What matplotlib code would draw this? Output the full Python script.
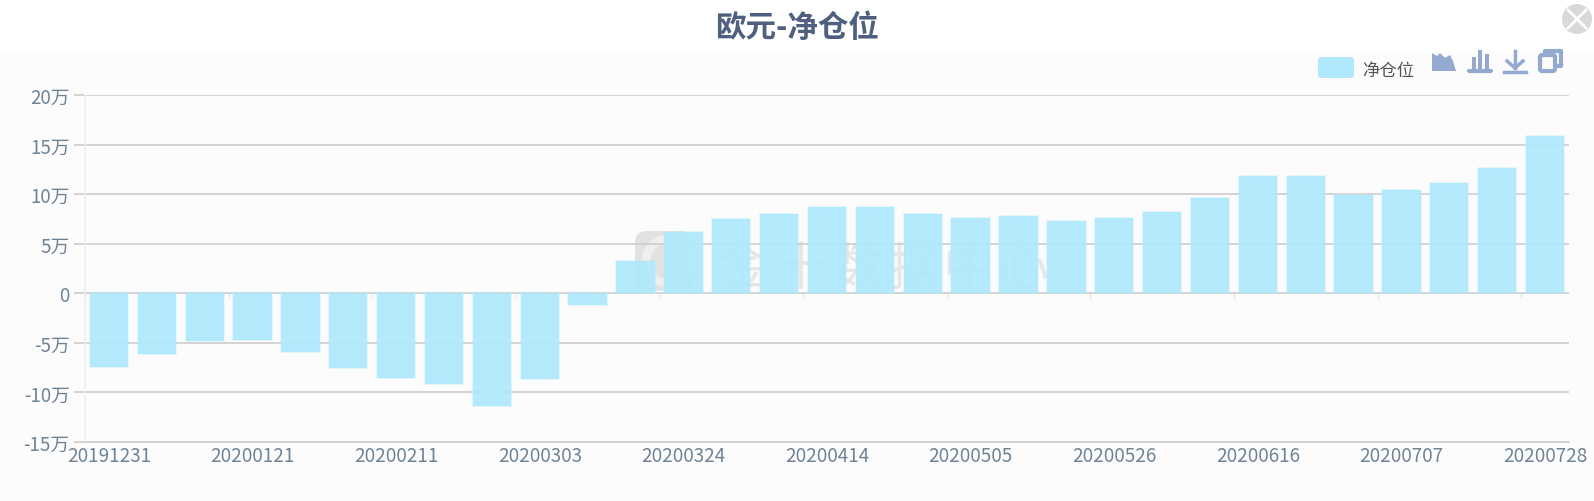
import matplotlib
matplotlib.use("Agg")
import matplotlib.pyplot as plt
from matplotlib.colors import to_rgba
from matplotlib.patches import Circle, FancyBboxPatch, Polygon, Rectangle

plt.rcParams['font.family'] = ['Noto Sans CJK SC', 'DejaVu Sans']

W, H = 1594, 502

dates = ["20191231", "", "", "20200121", "", "", "20200211", "", "", "20200303", "", "",
         "20200324", "", "", "20200414", "", "", "20200505", "", "", "20200526", "", "",
         "20200616", "", "", "20200707", "", "", "20200728"]
net_position = [-74800, -61700, -48200, -47200, -59000, -75800, -85500, -91000, -114000, -86000, -12300,
                32800, 61700, 74800, 79800, 86900, 87200, 80100, 76400, 78100, 72800,
                75800, 82000, 96300, 117800, 118800, 99400, 104500, 111700, 126000, 158800]
y_ticks = [-150000, -100000, -50000, 0, 50000, 100000, 150000, 200000]
y_labels = ["-15万", "-10万", "-5万", "0", "5万", "10万", "15万", "20万"]

BAR = "#b0e9fc"
TEXT = "#6f8396"
GRID = "#cccccc"
ICON = "#94a9d0"


def main():
    fig = plt.figure(figsize=(W / 100, H / 100), dpi=100, facecolor="white")

    # page layer, pixel coordinates
    bg = fig.add_axes([0, 0, 1, 1], zorder=0)
    bg.set_xlim(0, W)
    bg.set_ylim(H, 0)
    bg.axis("off")
    bg.add_patch(Rectangle((0, 52), W, H - 52, color="#fcfcfd", lw=0))
    draw_watermark(bg)

    ax = fig.add_axes([85 / W, 1 - 443 / H, 1484 / W, (443 - 96) / H], zorder=1)
    ax.patch.set_alpha(0)
    plot_bars(ax)

    top = fig.add_axes([0, 0, 1, 1], zorder=2)
    top.set_xlim(0, W)
    top.set_ylim(H, 0)
    top.axis("off")
    top.patch.set_alpha(0)
    draw_header(top)

    fig.savefig("out.png", dpi=100, facecolor="white")


def plot_bars(ax):
    x = list(range(len(net_position)))
    ax.bar(x, net_position, width=0.8, color=to_rgba(BAR, 0.95), zorder=3,
           edgecolor=to_rgba(BAR, 0.3), linewidth=1.5)
    ax.set_xlim(-0.5, len(x) - 0.5)
    ax.set_ylim(-150000, 200000)
    ax.set_yticks(y_ticks)
    ax.set_yticklabels(y_labels)
    ax.grid(axis="y", color=GRID, lw=1.2, zorder=1)
    ax.set_axisbelow(True)
    ax.tick_params(axis="y", length=8, width=1.2, color=GRID, labelcolor=TEXT, labelsize=13.5, pad=3)

    tick_pos = [i for i, d in enumerate(dates) if d]
    ax.set_xticks(tick_pos)
    ax.set_xticklabels([dates[i] for i in tick_pos])
    ax.tick_params(axis="x", length=0, labelcolor=TEXT, labelsize=13.6, pad=2)
    for label in ax.get_xticklabels():
        label.set_clip_on(False)

    # ticks hang from the zero line, between the bars
    ax.vlines([i - 0.5 for i in tick_pos], -5000, 0, color="#e4e4e4", lw=1, zorder=1)

    for side in ["top", "right"]:
        ax.spines[side].set_visible(False)
    ax.spines["left"].set_color("#eeeeee")
    ax.spines["left"].set_linewidth(1.2)
    ax.spines["bottom"].set_color(GRID)
    ax.spines["bottom"].set_linewidth(1.2)


def draw_watermark(ax):
    ax.add_patch(FancyBboxPatch((635, 232), 58, 60, boxstyle="round,pad=0,rounding_size=12",
                                fc="#e2e2e2", ec="none"))
    ax.add_patch(Circle((668, 262), 22, fc="none", ec="#efefef", lw=6))
    for cx, ch in zip([742, 800, 857, 914, 968, 1023], "金十数据中心"):
        ax.text(cx, 270, ch, fontsize=37, color="#e6e6e6", ha="center", va="center")


def draw_header(ax):
    ax.text(797, 28, "欧元-净仓位", fontsize=22, fontweight="bold", color="#4f5f7f",
            ha="center", va="center")

    # close button
    ax.add_patch(Circle((1577, 20), 15, color="#d9d9d9", lw=0))
    ax.plot([1568, 1586], [11, 29], color="white", lw=2)
    ax.plot([1568, 1586], [29, 11], color="white", lw=2)

    # legend
    ax.add_patch(FancyBboxPatch((1318, 58), 36, 21, boxstyle="round,pad=0,rounding_size=4",
                                fc=BAR, ec="none"))
    ax.text(1362, 71, "净仓位", fontsize=12.5, color="#555555", ha="left", va="center")

    # toolbox icons
    ax.add_patch(Polygon([(1432, 72), (1432, 54), (1437, 57), (1440, 54), (1445, 59),
                          (1450, 56), (1453, 62), (1456, 72)], color=ICON, lw=0))
    for bx, by in [(1472, 58), (1478, 51), (1485, 55)]:
        ax.add_patch(Rectangle((bx, by), 4.5, 70 - by, color=ICON, lw=0))
    ax.plot([1469, 1491], [72, 72], color=ICON, lw=3, solid_capstyle="round")
    ax.plot([1515, 1515], [52, 69], color=ICON, lw=2.5)
    ax.plot([1507, 1515, 1523], [62, 69, 62], color=ICON, lw=2.5)
    ax.plot([1504, 1526], [73, 73], color=ICON, lw=2.5)
    ax.add_patch(FancyBboxPatch((1540, 56), 15, 16, boxstyle="round,pad=0,rounding_size=2",
                                fc="none", ec=ICON, lw=3))
    ax.plot([1545, 1545, 1561, 1561, 1558], [56, 52, 52, 67, 67], color=ICON, lw=3)


if __name__ == '__main__':
    main()
